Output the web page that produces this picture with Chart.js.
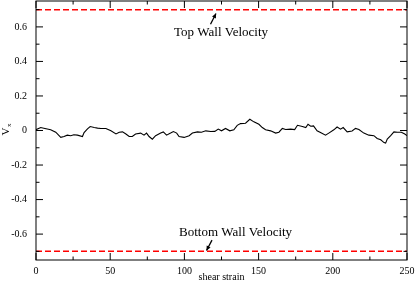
<!DOCTYPE html>
<html><head><meta charset="utf-8">
<script src="https://cdn.jsdelivr.net/npm/chart.js@4/dist/chart.umd.min.js"></script>
<style>html,body{margin:0;padding:0;background:#fff}#wrap{width:415px;height:284px}</style>
</head><body><div id="wrap"><canvas id="c" width="415" height="284"></canvas></div>
<script>
const strain = [0,3.2,6,9.9,13.3,16.7,18.9,21.1,23.4,25.5,27.9,31.3,32.4,34.7,36.5,39.2,41.5,43.7,47.1,50.5,53.9,56.1,58.3,60.6,62.8,64.9,67.1,70.5,72.8,74.5,76.2,78.4,80.6,84.0,85.8,88.0,90.7,92.6,94.8,96.4,99.8,103.2,105.4,108.8,111.5,114.4,117.8,120.5,122.8,125,127.7,130.6,133.3,135.6,137.8,141.2,144.1,146.8,150.2,152.5,154.7,158.1,161.5,163.7,166.0,168.2,171.6,174.3,176.2,179.5,181.8,183.3,185.1,187.0,189.4,191.7,195.1,197.3,200.7,202.9,205.2,207.0,209.7,213.0,215.3,217.6,220.9,224.3,227.7,229.9,232.3,234.5,235.6,236.7,239.0,241.2,243.5,246.2,248.5,250];
const vx = [0.005,0.017,0.012,0.004,-0.01,-0.04,-0.035,-0.027,-0.03,-0.025,-0.027,-0.035,-0.012,0.01,0.023,0.017,0.014,0.012,0.012,-0.002,-0.02,-0.01,-0.008,-0.02,-0.035,-0.035,-0.02,-0.015,-0.027,-0.015,-0.035,-0.05,-0.03,-0.015,-0.008,-0.027,-0.015,-0.006,-0.015,-0.035,-0.04,-0.03,-0.015,-0.008,-0.01,-0.002,-0.006,-0.005,0.008,-0.002,0.012,-0.002,0.004,0.03,0.04,0.042,0.065,0.05,0.036,0.017,0.004,-0.002,-0.015,-0.01,0.012,0.006,0.008,0.005,0.03,0.023,0.017,0.036,0.025,0.027,-0.002,-0.012,-0.027,-0.015,0.004,0.02,0.008,0.017,-0.008,-0.003,0.012,0.006,-0.015,-0.027,-0.03,-0.046,-0.054,-0.07,-0.073,-0.05,-0.03,-0.008,-0.01,-0.01,-0.02,-0.03];
const topWall = 0.7;
const bottomWall = -0.7;
const xRange = [0, 250];
const yRange = [-0.75, 0.75];
const xMajorTicks = [0,50,100,150,200,250];
const xMinorTicks = [25,75,125,175,225];
const yMajorTicks = [-0.6,-0.4,-0.2,0,0.2,0.4,0.6];
const yMinorTicks = [-0.7,-0.5,-0.3,-0.1,0.1,0.3,0.5,0.7];
const annTop = {text:'Top Wall Velocity', at:[124.7,0.568], tail:[117.6,0.615], tip:[121.3,0.678]};
const annBottom = {text:'Bottom Wall Velocity', at:[134.5,-0.594], tail:[118.6,-0.635], tip:[114.9,-0.695]};
const xTitle = 'shear strain';
const yTitle = ['V','x'];

const serif = '"Liberation Serif", "Times New Roman", serif';

const framePlugin = {
  id:'frame',
  afterDraw(chart){
    const ctx = chart.ctx, a = chart.chartArea;
    const xs = chart.scales.x, ys = chart.scales.y;
    ctx.save();
    ctx.strokeStyle = '#000'; ctx.lineWidth = 1;
    ctx.strokeRect(a.left, a.top, a.right-a.left, a.bottom-a.top);
    ctx.beginPath();
    const tk = (vals, len) => {
      vals.forEach(v => {
        const px = xs.getPixelForValue(v);
        ctx.moveTo(px, a.bottom); ctx.lineTo(px, a.bottom-len);
        ctx.moveTo(px, a.top); ctx.lineTo(px, a.top+len);
      });
    };
    const tky = (vals, len) => {
      vals.forEach(v => {
        const py = ys.getPixelForValue(v);
        ctx.moveTo(a.left, py); ctx.lineTo(a.left+len, py);
        ctx.moveTo(a.right, py); ctx.lineTo(a.right-len, py);
      });
    };
    tk(xMajorTicks, 7); tk(xMinorTicks, 3.5);
    tky(yMajorTicks, 7); tky(yMinorTicks, 3.5);
    ctx.stroke();

    // annotations
    ctx.fillStyle = '#000';
    ctx.font = '13px ' + serif;
    ctx.textAlign = 'center'; ctx.textBaseline = 'middle';
    [annTop, annBottom].forEach(ann => {
      ctx.fillText(ann.text, xs.getPixelForValue(ann.at[0]), ys.getPixelForValue(ann.at[1]));
    });
    const arrow = (ann) => {
      const x1 = xs.getPixelForValue(ann.tail[0]), y1 = ys.getPixelForValue(ann.tail[1]);
      const x2 = xs.getPixelForValue(ann.tip[0]), y2 = ys.getPixelForValue(ann.tip[1]);
      ctx.beginPath(); ctx.lineWidth = 1.3;
      ctx.moveTo(x1,y1); ctx.lineTo(x2,y2); ctx.stroke();
      const ang = Math.atan2(y2-y1, x2-x1), L = 5, W = 0.45;
      ctx.beginPath();
      ctx.moveTo(x2,y2);
      ctx.lineTo(x2 - L*Math.cos(ang-W), y2 - L*Math.sin(ang-W));
      ctx.lineTo(x2 - L*Math.cos(ang+W), y2 - L*Math.sin(ang+W));
      ctx.closePath(); ctx.fill();
    };
    arrow(annTop); arrow(annBottom);

    // axis titles
    ctx.font = '10px ' + serif;
    ctx.textAlign = 'center'; ctx.textBaseline = 'middle';
    ctx.fillText(xTitle, (a.left+a.right)/2, 277);
    ctx.save();
    ctx.translate(6, (a.top+a.bottom)/2);
    ctx.rotate(-Math.PI/2);
    ctx.font = '11px ' + serif;
    ctx.textAlign = 'left'; ctx.textBaseline = 'middle';
    const w = ctx.measureText(yTitle[0]).width;
    ctx.fillText(yTitle[0], -5, 0);
    ctx.font = '7px ' + serif;
    ctx.fillText(yTitle[1], -5 + w + 0.5, 3.5);
    ctx.restore();
    ctx.restore();
  }
};

new Chart(document.getElementById('c'), {
  type:'line',
  data:{datasets:[
    {data: strain.map((s,i)=>({x:s,y:vx[i]})), borderColor:'#000', borderWidth:1.1, pointRadius:0, tension:0, fill:false},
    {data: xRange.map(x=>({x:x,y:topWall})), borderColor:'#ff0000', borderWidth:1.5, borderDash:[6,3], pointRadius:0},
    {data: xRange.map(x=>({x:x,y:bottomWall})), borderColor:'#ff0000', borderWidth:1.5, borderDash:[6,3], pointRadius:0}
  ]},
  options:{
    responsive:false, animation:false, devicePixelRatio:1,
    layout:{padding:{top:1,right:8,left:0,bottom:0}},
    plugins:{legend:{display:false}, tooltip:{enabled:false}},
    scales:{
      x:{type:'linear', min:xRange[0], max:xRange[1],
        grid:{display:false, drawTicks:false}, border:{display:false},
        afterFit(s){ s.height = 24; s.paddingLeft = 0; s.paddingRight = 0; },
        afterBuildTicks(s){ s.ticks = xMajorTicks.map(v=>({value:v})); },
        ticks:{padding:5, color:'#000', font:{family:serif, size:10}, maxRotation:0, autoSkip:false,
          callback:v=>String(v)}
      },
      y:{type:'linear', min:yRange[0], max:yRange[1],
        grid:{display:false, drawTicks:false}, border:{display:false},
        afterFit(s){ s.width = 36; s.paddingTop = 0; s.paddingBottom = 0; },
        afterBuildTicks(s){ s.ticks = yMajorTicks.map(v=>({value:v})); },
        ticks:{padding:9, color:'#000', font:{family:serif, size:10}, autoSkip:false,
          callback:v=>String(Math.round(v*10)/10)}
      }
    }
  },
  plugins:[framePlugin]
});
</script></body></html>
